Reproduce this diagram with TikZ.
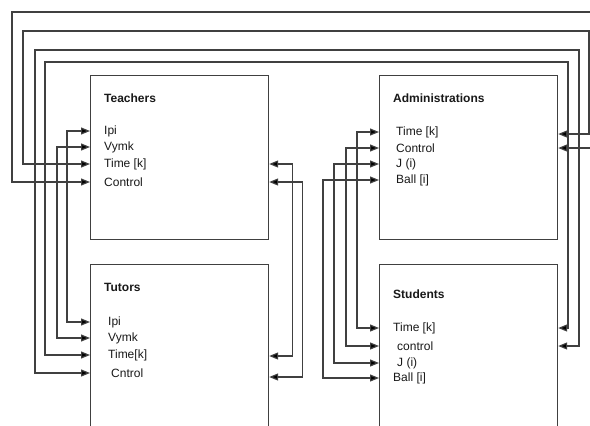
\documentclass[tikz,border=0pt]{standalone}
\usepackage{fontspec}
\setmainfont{Liberation Sans}
\usetikzlibrary{arrows.meta}
\tikzset{
  box/.style={draw=black!75, line width=1.2pt, anchor=north west, minimum width=178pt},
  lbl/.style={anchor=west, inner sep=0pt, text=black!90, font=\fontsize{12pt}{14pt}\selectfont},
  ttl/.style={lbl, font=\bfseries\fontsize{12pt}{14pt}\selectfont},
  link/.style={draw=black!75, line width=1.2pt, {Triangle[length=9pt,width=7pt,fill=black]}-{Triangle[length=9pt,width=7pt,fill=black]}}
}
\begin{document}
\begin{tikzpicture}[x=1pt,y=-1pt]
\clip (0,0) rectangle (590,426);
\fill[white] (0,0) rectangle (590,426);
% boxes
\node[box, minimum height=164pt] (tea) at (90,75) {};
\node[box, minimum height=180pt] (tut) at (90,264) {};
\node[box, minimum height=164pt] (adm) at (379,75) {};
\node[box, minimum height=180pt] (stu) at (379,264) {};
% titles
\node[ttl] (teaT) at (104,98) {Teachers};
\node[ttl] (tutT) at (104,287) {Tutors};
\node[ttl] (admT) at (393,98) {Administrations};
\node[ttl] (stuT) at (393,294) {Students};
% port labels
\foreach \n/\x/\y/\t in {t1/104/131/Ipi, t2/104/147/Vymk, t3/104/164/{Time [k]}, t4/104/182/Control,
  u1/108/322/Ipi, u2/108/338/Vymk, u3/108/355/{Time[k]}, u4/111/373/Cntrol,
  a1/396/132/{Time [k]}, a2/396/148/Control, a3/396/164/{J (i)}, a4/396/180/{Ball [i]},
  s1/393/328/{Time [k]}, s2/397/346/control, s3/397/363/{J (i)}, s4/393/378/{Ball [i]}}{
  \node[lbl] (\n) at (\x,\y) {\t};
}
% teachers <-> tutors
\foreach \a/\b/\d in {t1/u1/-23, t2/u2/-33}{
  \draw[link] (tea.west |- \a) -- ++(\d,0) |- (tut.west |- \b);
}
\draw[link] (tea.east |- t3) -- ++(23,0) |- ([yshift=-1pt]tut.east |- u3);
\draw[link] (tea.east |- t4) -- ++(33,0) |- ([yshift=-4pt]tut.east |- u4);
% administrations <-> students
\foreach \a/\b/\d in {a1/s1/-22, a2/s2/-33, a3/s3/-45, a4/s4/-56}{
  \draw[link] (adm.west |- \a) -- ++(\d,0) |- (stu.west |- \b);
}
% long loops over the top
\draw[link] (tea.west |- t4) -| (12,12) -- (598,12) |- (adm.east |- a2);
\draw[link] (tea.west |- t3) -| (23,31) -- (589,31) |- ([yshift=-2pt]adm.east |- a1);
\draw[link] (tut.west |- u4) -| (35,50) -- (579,50) |- (stu.east |- s2);
\draw[link] (tut.west |- u3) -| (45,62) -- (568,62) |- (stu.east |- s1);
\end{tikzpicture}
\end{document}
